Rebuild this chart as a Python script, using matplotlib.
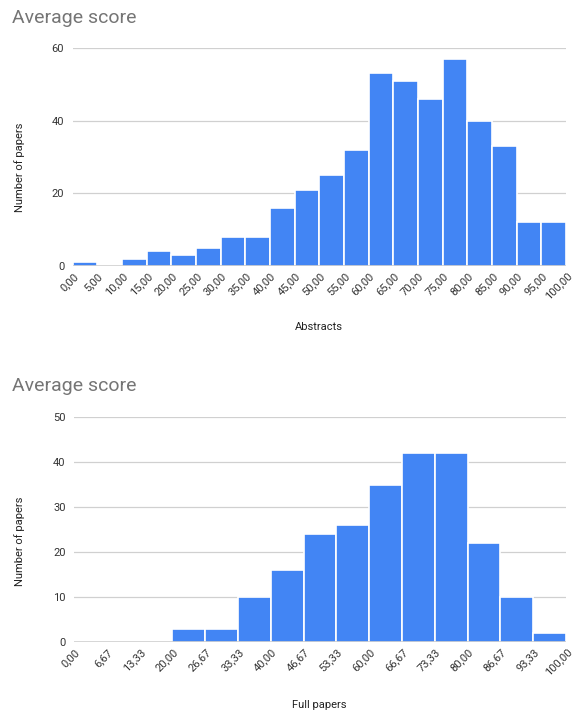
import matplotlib
matplotlib.use("Agg")
import matplotlib.pyplot as plt
import matplotlib.transforms as mtransforms
import numpy as np

plt.rcParams['font.family'] = ['Roboto', 'DejaVu Sans']

# Data
abs_edges = [0, 5, 10, 15, 20, 25, 30, 35, 40, 45, 50, 55, 60, 65, 70, 75, 80, 85, 90, 95, 100]
abs_counts = [1, 0, 2, 4, 3, 5, 8, 8, 16, 21, 25, 32, 53, 51, 46, 57, 40, 33, 12, 12]
abs_yticks = [0, 20, 40, 60]

full_edges = [0, 6.67, 13.33, 20, 26.67, 33.33, 40, 46.67, 53.33, 60, 66.67, 73.33, 80, 86.67, 93.33, 100]
full_counts = [0, 0, 0, 3, 3, 10, 16, 24, 26, 35, 42, 42, 22, 10, 2]
full_yticks = [0, 10, 20, 30, 40, 50]

title = "Average score"
ylabel = "Number of papers"
xlabels = ["Abstracts", "Full papers"]

BLUE = "#4285F4"
W, H = 579, 711
fig = plt.figure(figsize=(W / 100, H / 100), dpi=100)


def px_axes(left, right, top, bottom):
    return fig.add_axes([left / W, 1 - bottom / H, (right - left) / W, (bottom - top) / H])


def draw(ax, edges, counts, yticks, xlabel, ytop, title_y, ylab_y, xlab_y):
    edges = np.array(edges, dtype=float)
    widths = np.diff(edges)
    ax.bar(edges[:-1], counts, width=widths, align='edge', color=BLUE,
           edgecolor='white', linewidth=1.2, zorder=3)
    ax.set_xlim(edges[0], edges[-1])
    ax.set_ylim(0, ytop)
    ax.set_yticks(yticks)
    ax.set_yticklabels([str(t) for t in yticks], fontsize=8, color='#333333')
    for t in yticks[1:]:
        ax.axhline(t, color='#d0d0d0', linewidth=0.9, zorder=1)
    ax.axhline(0, color='#333333', linewidth=1.0, zorder=4)
    for s in ax.spines.values():
        s.set_visible(False)
    ax.tick_params(axis='both', length=0)
    ax.tick_params(axis='y', pad=6)
    ax.set_xticks(edges)
    labels = ax.set_xticklabels([f"{e:.2f}".replace('.', ',') for e in edges], rotation=45,
                                ha='right', va='center', rotation_mode='anchor', fontsize=8,
                                color='#333333')
    ax.tick_params(axis='x', pad=6)
    offset = mtransforms.ScaledTranslation(4 / 100, 0, fig.dpi_scale_trans)
    for lab in labels:
        lab.set_transform(lab.get_transform() + offset)
    fig.text(12 / W, 1 - title_y / H, title, fontsize=14, color='#757575', va='center', ha='left')
    fig.text(20 / W, 1 - ylab_y / H, ylabel, fontsize=8, color='#222222', rotation=90,
             va='center', ha='center')
    fig.text(319 / W, 1 - xlab_y / H, xlabel, fontsize=8, color='#222222', va='center', ha='center')


ax1 = px_axes(72.5, 566, 48, 266)
draw(ax1, abs_edges, abs_counts, abs_yticks, xlabels[0], 60, 18, 167, 327)
ax2 = px_axes(74, 566, 417, 642)
draw(ax2, full_edges, full_counts, full_yticks, xlabels[1], 50, 386, 541, 705)

fig.savefig("out.png", dpi=100, facecolor='white')
